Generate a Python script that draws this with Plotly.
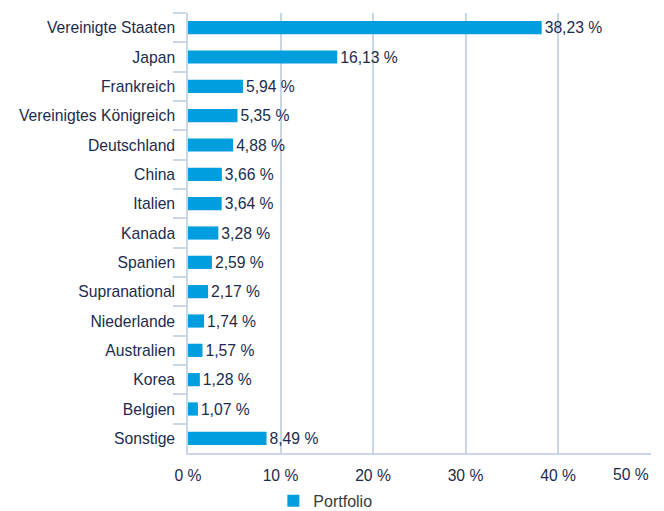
import plotly.graph_objects as go

countries = ["Vereinigte Staaten", "Japan", "Frankreich", "Vereinigtes Königreich",
             "Deutschland", "China", "Italien", "Kanada", "Spanien", "Supranational",
             "Niederlande", "Australien", "Korea", "Belgien", "Sonstige"]
values = [38.23, 16.13, 5.94, 5.35, 4.88, 3.66, 3.64, 3.28, 2.59, 2.17,
          1.74, 1.57, 1.28, 1.07, 8.49]
series_name = "Portfolio"
tick_vals = [0, 10, 20, 30, 40, 50]
tick_text = ["0 %", "10 %", "20 %", "30 %", "40 %", ""]
last_tick_label = "50 %"

BAR = "#009ede"
TXT = "#1b2b4d"
GRID = "#c9d6e6"
FONT = "Liberation Sans, Arial, Helvetica, sans-serif"
FS = 15.7

fig = go.Figure()
fig.add_trace(go.Bar(
    x=values, y=countries, orientation="h", name=series_name,
    marker=dict(color=BAR, line=dict(width=0)),
    width=0.45,
    texttemplate="%{x:.2f} %", textposition="outside", constraintext="none",
    textfont=dict(color=TXT, size=FS, family=FONT),
    cliponaxis=False,
))
fig.add_annotation(x=tick_vals[-1], xref="x", y=0, yref="paper", yanchor="top",
                   xanchor="right", yshift=-11, text=last_tick_label, showarrow=False,
                   font=dict(size=FS, color=TXT, family=FONT))
fig.update_layout(
    width=664, height=511,
    margin=dict(l=188, r=13, t=13, b=58, autoexpand=False),
    paper_bgcolor="white", plot_bgcolor="white",
    separators=", ",
    font=dict(family=FONT, color=TXT, size=FS),
    showlegend=True,
    legend=dict(orientation="h", xref="container", yref="container",
                x=0.49, xanchor="center", y=0.02, yanchor="middle",
                font=dict(size=16, color="#3a3a3a", family=FONT)),
    xaxis=dict(range=[0, 50.05], tickmode="array", tickvals=tick_vals, ticktext=tick_text,
               showgrid=True, gridcolor=GRID, gridwidth=1.5,
               showline=True, linecolor=GRID, linewidth=1.5, automargin=False,
               zeroline=False, ticks="", tickfont=dict(size=FS, color=TXT),
               ticklabelstandoff=7),
    yaxis=dict(autorange="reversed", showline=True, linecolor=GRID, linewidth=1.5,
               ticks="outside", tickson="boundaries", ticklen=13, tickcolor=GRID,
               tickwidth=1.5, tickfont=dict(size=FS, color=TXT), automargin=False,
               ticklabelstandoff=8, showgrid=False),
)
fig.write_html("out.html", config={"displayModeBar": False},
               post_script="document.body.style.margin='0';")
